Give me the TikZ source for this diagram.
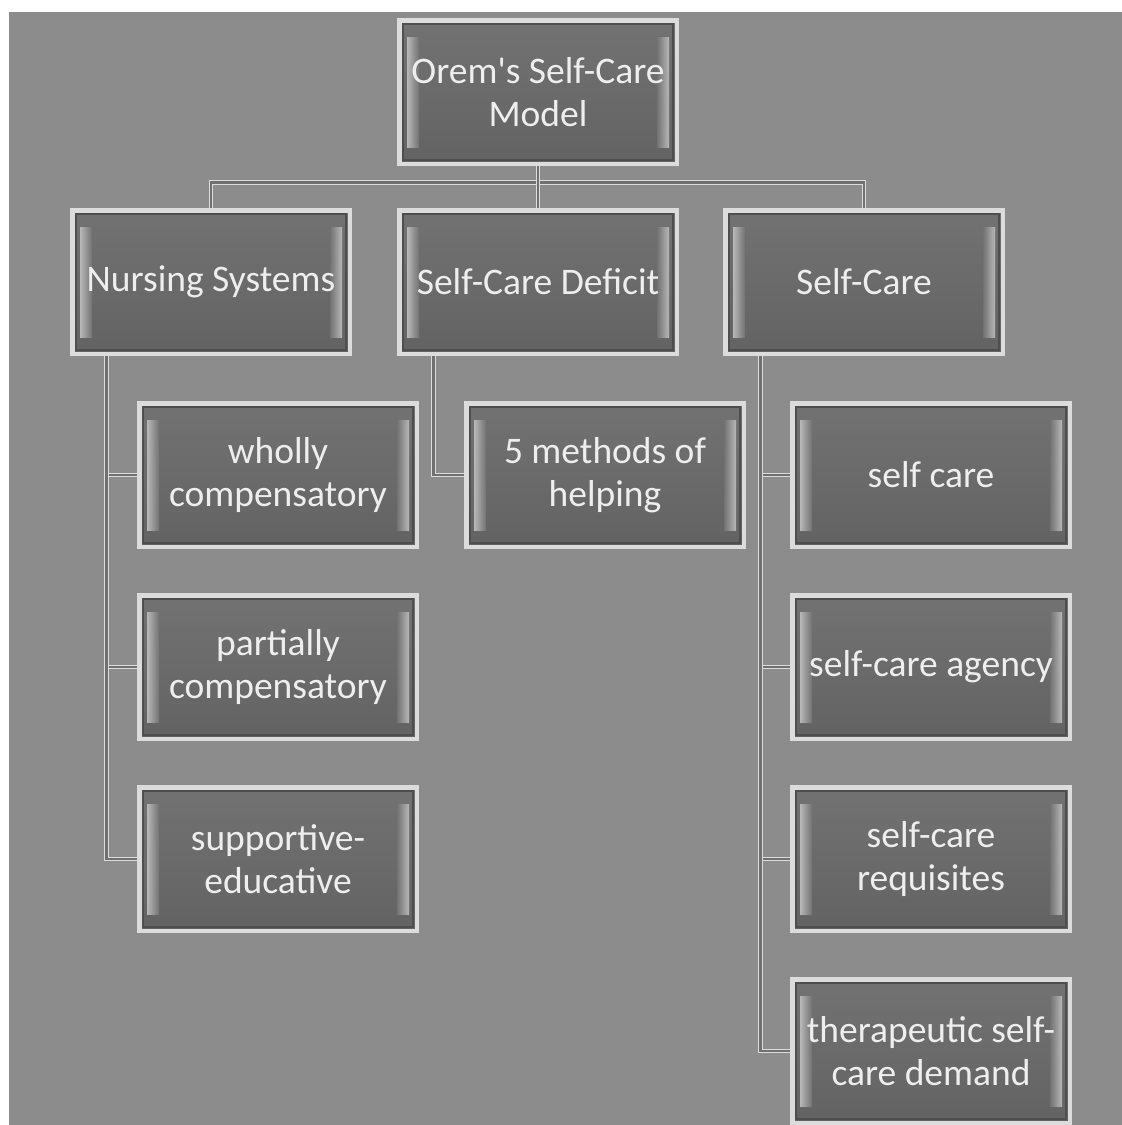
\documentclass[tikz,border=0pt]{standalone}
\usepackage{fontspec}
\setmainfont{Carlito}
\usepackage{tikz}
\definecolor{bgGray}{HTML}{8C8C8C}
\definecolor{boxTop}{HTML}{727272}
\definecolor{boxBot}{HTML}{636363}
\definecolor{rimLight}{HTML}{DCDCDC}
\definecolor{rimDark}{HTML}{4E4E4E}
\definecolor{bevLight}{HTML}{B8B8B8}
\definecolor{txtLight}{HTML}{EEEEEE}
\tikzset{
  unit/.style={rectangle, draw=rimLight, line width=3pt,
    top color=boxTop, bottom color=boxBot,
    minimum width=276pt, minimum height=142pt, inner sep=0pt,
    text=txtLight, align=center, font=\fontsize{37.5}{43}\selectfont,
    path picture={
      \draw[rimDark, line width=2pt]
        ([xshift=3pt,yshift=-3pt]path picture bounding box.north west) rectangle
        ([xshift=-3pt,yshift=3pt]path picture bounding box.south east);
      \shade[left color=bevLight, right color=boxTop]
        ([xshift=7pt,yshift=-16pt]path picture bounding box.north west) rectangle
        ([xshift=19pt,yshift=16pt]path picture bounding box.south west);
      \shade[left color=boxTop, right color=bevLight]
        ([xshift=-19pt,yshift=-16pt]path picture bounding box.north east) rectangle
        ([xshift=-7pt,yshift=16pt]path picture bounding box.south east);
    }},
  link/.style={draw=rimLight, line width=1.2pt, double=bgGray!80!black, double distance=2.5pt}
}
\begin{document}
\begin{tikzpicture}[x=1pt, y=-1pt]
    % fix the page and draw background
    \useasboundingbox (0,0) rectangle (1122,1125);
    \fill[white] (0,0) rectangle (1122,1125);
    \fill[bgGray] (9,12) rectangle (1122,1125);

    % draw top and first level
    \node[unit] (orem) at (538,92) {Orem\textquotesingle s Self-Care\\Model};
    \node[unit] (ns) at (211,282) {Nursing Systems};
    \node[unit] (scd) at (538,282) {Self-Care Deficit};
    \node[unit] (sc) at (864,282) {Self-Care};

    % draw children
    \node[unit] (wc) at (278,475) {wholly\\compensatory};
    \node[unit] (pc) at (278,667) {partially\\compensatory};
    \node[unit] (se) at (278,859) {supportive-\\educative};
    \node[unit] (mh) at (605,475) {5 methods of\\helping};
    \node[unit] (scare) at (931,475) {self care};
    \node[unit] (sca) at (931,667) {self-care agency};
    \node[unit] (scr) at (931,859) {self-care\\requisites};
    \node[unit] (tsd) at (931,1051) {therapeutic self-\\care demand};

    % draw connectors
    \foreach \c in {ns,sc}
        \draw[link] (orem.south) -- ++(0,18) -| (\c.north);
    \draw[link] (orem.south) -- (scd.north);
    \foreach \c in {wc,pc,se}
        \draw[link] ([xshift=35pt]ns.south west) |- (\c.west);
    \draw[link] ([xshift=35pt]scd.south west) |- (mh.west);
    \foreach \c in {scare,sca,scr,tsd}
        \draw[link] ([xshift=36pt]sc.south west) |- (\c.west);

    % redraw boxes over the connector ends
    \foreach \c in {orem,ns,scd,sc,wc,pc,se,mh,scare,sca,scr,tsd}
        \draw[rimLight, line width=3pt] (\c.north west) rectangle (\c.south east);
\end{tikzpicture}
\end{document}
